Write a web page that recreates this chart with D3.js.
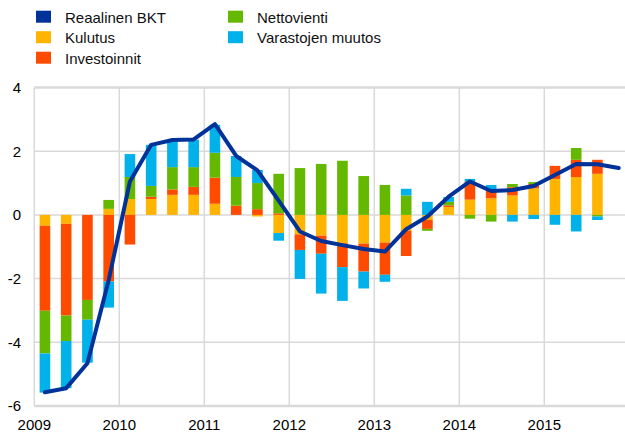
<!doctype html>
<html lang="fi">
<head>
  <meta charset="utf-8" />
  <title>Reaalinen BKT ja sen osatekijät</title>
  <script src="https://d3js.org/d3.v7.min.js"></script>
  <style>
    body { margin: 0; background: #fff; }
    svg { display: block; font-family: "Liberation Sans", Arial, sans-serif; }
  </style>
</head>
<body>
  <figure id="chart" style="margin:0"></figure>

  <script>
    // quarterly data, 2009Q1 ... 2015Q4 (percentage points / %)
    const quarters = d3.range(28).map(i => 2009 + Math.floor(i / 4) + "Q" + (i % 4 + 1));

    const kulutus = [
      -0.34, -0.28, 0.00, 0.19,
      0.50, 0.50, 0.63, 0.63,
      0.35, 0.00, -0.05, -0.57,
      -0.61, -0.65, -0.89, -0.90,
      -0.87, -0.50, -0.16, 0.25,
      0.48, 0.52, 0.61, 0.83,
      1.13, 1.19, 1.29
    ];
    const investoinnit = [
      -2.67, -2.88, -2.67, -2.09,
      -0.93, 0.07, 0.17, 0.25,
      0.82, 0.29, 0.18, 0.05,
      -0.49, -0.57, -0.75, -0.88,
      -1.01, -0.79, -0.28, 0.05,
      0.57, 0.26, 0.26, 0.14,
      0.41, 0.54, 0.44
    ];
    const nettovienti = [
      -1.34, -0.80, -0.62, 0.28,
      0.69, 0.34, 0.70, 0.62,
      0.78, 0.90, 0.82, 1.24,
      1.47, 1.60, 1.70, 1.22,
      0.94, 0.61, -0.06, 0.11,
      -0.12, -0.21, 0.10, 0.06,
      0.00, 0.37, -0.05
    ];
    const varastot = [
      -1.23, -1.48, -1.35, -0.82,
      0.72, 1.29, 0.85, 0.86,
      0.88, 0.66, 0.41, -0.24,
      -0.91, -1.25, -1.06, -0.53,
      -0.22, 0.21, 0.41, 0.15,
      0.08, 0.16, -0.21, -0.13,
      -0.31, -0.52, -0.11
    ];
    const bkt = [
      -5.57, -5.44, -4.66, -2.05,
      1.05, 2.20, 2.35, 2.37,
      2.85, 1.85, 1.40, 0.45,
      -0.52, -0.82, -0.95, -1.07,
      -1.15, -0.45, -0.05, 0.57,
      1.05, 0.75, 0.78, 0.91,
      1.25, 1.60, 1.59, 1.47
    ];

    const yearTicks = [2009, 2010, 2011, 2012, 2013, 2014, 2015];
    const valueTicks = [-6, -4, -2, 0, 2, 4];

    const seriesKeys = ["kulutus", "investoinnit", "nettovienti", "varastot"];
    const seriesNames = {
      bkt: "Reaalinen BKT",
      kulutus: "Kulutus",
      investoinnit: "Investoinnit",
      nettovienti: "Nettovienti",
      varastot: "Varastojen muutos"
    };
    const colors = {
      bkt: "#003299",
      kulutus: "#ffb400",
      investoinnit: "#ff4b00",
      nettovienti: "#65b800",
      varastot: "#00b1ea"
    };

    const width = 625, height = 434;
    const plotLeft = 34.3, plotTop = 87.5, plotBottom = 406;

    const svg = d3.select("#chart").append("svg")
      .attr("width", width)
      .attr("height", height);

    const x = d3.scaleLinear().domain([2009, 2016]).range([plotLeft, plotLeft + 7 * 85]);
    const y = d3.scaleLinear().domain([-6, 4]).range([plotBottom, plotTop]);
    const qx = i => x(2009 + (i + 0.5) / 4);
    const barW = (x(2009.25) - x(2009)) * 0.5;

    // grid
    const grid = svg.append("g").attr("stroke", "#d9d9d9");
    grid.selectAll("line.h")
      .data(valueTicks)
      .join("line")
      .attr("class", "h")
      .attr("x1", plotLeft).attr("x2", width)
      .attr("y1", d => y(d)).attr("y2", d => y(d))
      .attr("stroke-width", d => (d === 4 || d === -6) ? 2.5 : 1.5);
    grid.selectAll("line.v")
      .data(yearTicks)
      .join("line")
      .attr("class", "v")
      .attr("x1", d => x(d)).attr("x2", d => x(d))
      .attr("y1", plotTop).attr("y2", plotBottom)
      .attr("stroke-width", 1.5);

    // stacked bars
    const table = kulutus.map((_, i) => ({
      i,
      kulutus: kulutus[i],
      investoinnit: investoinnit[i],
      nettovienti: nettovienti[i],
      varastot: varastot[i]
    }));
    const stacked = d3.stack()
      .keys(seriesKeys)
      .offset(d3.stackOffsetDiverging)(table);

    svg.append("g")
      .selectAll("g")
      .data(stacked)
      .join("g")
      .attr("fill", s => colors[s.key])
      .selectAll("rect")
      .data(s => s)
      .join("rect")
      .attr("x", d => qx(d.data.i) - barW / 2)
      .attr("width", barW)
      .attr("y", d => y(Math.max(d[0], d[1])))
      .attr("height", d => Math.abs(y(d[0]) - y(d[1])));

    // GDP line
    const line = d3.line()
      .x((d, i) => qx(i))
      .y(d => y(d));
    svg.append("path")
      .datum(bkt)
      .attr("d", line)
      .attr("fill", "none")
      .attr("stroke", colors.bkt)
      .attr("stroke-width", 4)
      .attr("stroke-linejoin", "round")
      .attr("stroke-linecap", "round");

    // axis labels
    svg.append("g")
      .selectAll("text")
      .data(valueTicks)
      .join("text")
      .attr("x", 21)
      .attr("y", d => y(d) + 5.3)
      .attr("text-anchor", "end")
      .attr("font-size", 15)
      .text(d => d);
    svg.append("g")
      .selectAll("text")
      .data(yearTicks)
      .join("text")
      .attr("x", d => x(d))
      .attr("y", 430)
      .attr("text-anchor", "middle")
      .attr("font-size", 15)
      .text(d => d);

    // legend
    const legendItems = [
      { key: "bkt", col: 0, row: 0 },
      { key: "kulutus", col: 0, row: 1 },
      { key: "investoinnit", col: 0, row: 2 },
      { key: "nettovienti", col: 1, row: 0 },
      { key: "varastot", col: 1, row: 1 }
    ];
    const legend = svg.append("g")
      .selectAll("g")
      .data(legendItems)
      .join("g")
      .attr("transform", d => "translate(" + (36 + d.col * 192) + "," + (10.7 + d.row * 20.5) + ")");
    legend.append("rect")
      .attr("width", 15)
      .attr("height", 12)
      .attr("fill", d => colors[d.key]);
    legend.append("text")
      .attr("x", 29)
      .attr("y", 11.8)
      .attr("font-size", 15)
      .attr("fill", "#111")
      .text(d => seriesNames[d.key]);
  </script>
</body>
</html>
